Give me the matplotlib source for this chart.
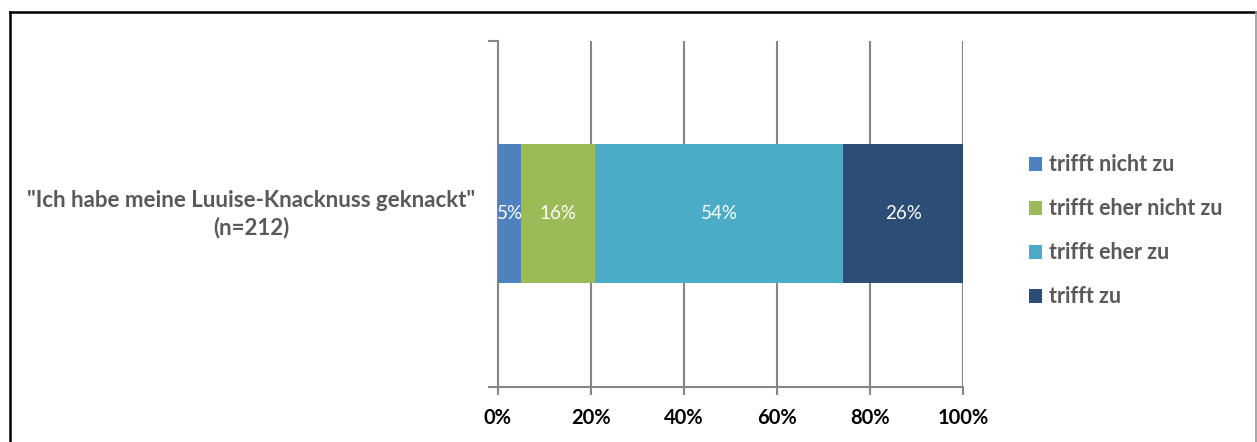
import matplotlib
matplotlib.use("Agg")
import matplotlib.pyplot as plt
from matplotlib.lines import Line2D
from matplotlib.patches import Patch
import numpy as np

categories = ['"Ich habe meine Luuise-Knacknuss geknackt"\n(n=212)']
series_names = ["trifft nicht zu", "trifft eher nicht zu", "trifft eher zu", "trifft zu"]
series_values = [5, 16, 54, 26]
series_colors = ["#4F81BD", "#9BBB59", "#4BACC6", "#2C4D75"]
x_ticks = [0, 20, 40, 60, 80, 100]
x_tick_labels = ["0%", "20%", "40%", "60%", "80%", "100%"]

plt.rcParams['font.family'] = ['Lato', 'DejaVu Sans']

W, H = 1257, 442
fig = plt.figure(figsize=(W / 100, H / 100), dpi=100)

# outer frame
fig.add_artist(Line2D([10 / W, 10 / W], [0, 1 - 12 / H], transform=fig.transFigure, color="black", lw=1.8))
fig.add_artist(Line2D([10 / W, 1255.5 / W], [1 - 12 / H, 1 - 12 / H], transform=fig.transFigure, color="black", lw=1.8))
fig.add_artist(Line2D([1255.5 / W, 1255.5 / W], [0, 1 - 12 / H], transform=fig.transFigure, color="#9a9a9a", lw=1.2))

left, right, top, bottom = 498, 963, 40.5, 387
ax = fig.add_axes([left / W, 1 - bottom / H, (right - left) / W, (bottom - top) / H])

total = sum(series_values)
shares = [v / total * 100 for v in series_values]
cum = 0
for name, val, share, col in zip(series_names, series_values, shares, series_colors):
    ax.barh(0, share, left=cum, height=0.4, color=col, label=name, zorder=3)
    ax.text(cum + share / 2, 0, f"{val}%", ha="center", va="center", color="white",
            fontsize=13.5, zorder=4)
    cum += share

ax.set_xlim(0, 100)
ax.set_ylim(-0.5, 0.5)
ax.set_xticks(x_ticks)
ax.set_xticklabels(x_tick_labels, fontsize=14.5, fontweight="bold", color="black")
ax.set_yticks([-0.5, 0.5])
ax.set_yticklabels(["", ""])
ax.tick_params(axis="x", length=6, width=1.5, color="#868686", pad=9)
ax.tick_params(axis="y", length=7, width=1.5, color="#868686")
ax.grid(axis="x", color="#868686", lw=1.5, zorder=0)
for s in ["top", "right"]:
    ax.spines[s].set_visible(False)
for s in ["left", "bottom"]:
    ax.spines[s].set_color("#868686")
    ax.spines[s].set_linewidth(1.5)

# category label
fig.text(251 / W, 1 - 214 / H, categories[0], ha="center", va="center", multialignment="center",
         fontsize=16, fontweight="bold", color="#595959", linespacing=1.3)

handles = [Patch(facecolor=c, edgecolor="none") for c in series_colors]
leg = fig.legend(handles, series_names, loc="upper left", bbox_to_anchor=(1010 / W, 1 - 135 / H),
                 frameon=False, handlelength=0.6, handleheight=0.6, handletextpad=0.3,
                 labelspacing=1.07, prop={"size": 15.5, "weight": "bold"})
for t in leg.get_texts():
    t.set_color("#595959")

fig.savefig("out.png", dpi=100)
